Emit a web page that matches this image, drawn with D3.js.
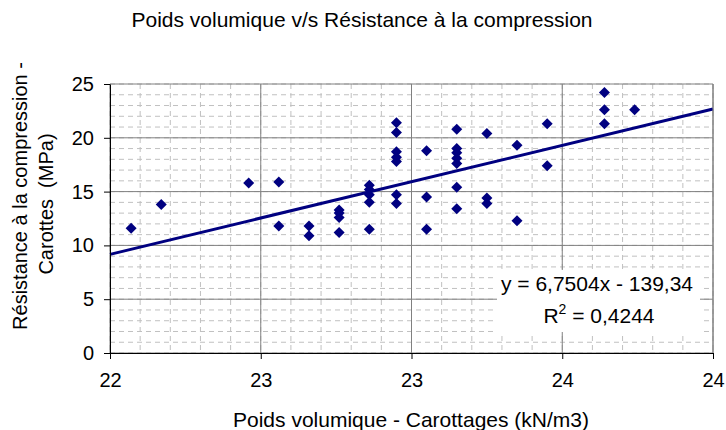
<!DOCTYPE html>
<html>
<head>
<meta charset="utf-8">
<script src="https://cdn.jsdelivr.net/npm/d3@7"></script>
<style>
  body { margin: 0; background: #fff; }
  svg { display: block; font-family: "Liberation Sans", Arial, sans-serif; }
  .grid-minor line { stroke: #c0c0c0; stroke-dasharray: 5,4; stroke-width: 1; }
  .grid-major line { stroke: #808080; stroke-width: 1; }
  .axis path, .axis line { stroke: #000; }
  .axis text { font-size: 20px; fill: #000; }
</style>
</head>
<body>
<div id="chart"></div>
<script>
// poids volumique (kN/m3) and matching resistance (MPa)
var poids = [
  22.07,
  22.17,
  22.46,
  22.56, 22.56,
  22.66, 22.66,
  22.76, 22.76, 22.76, 22.76,
  22.86, 22.86, 22.86, 22.86, 22.86,
  22.95, 22.95, 22.95, 22.95, 22.95, 22.95, 22.95,
  23.05, 23.05, 23.05,
  23.15, 23.15, 23.15, 23.15, 23.15, 23.15, 23.15,
  23.25, 23.25, 23.25,
  23.35, 23.35,
  23.45, 23.45,
  23.64, 23.64, 23.64,
  23.74
];
var resistance = [
  11.6,
  13.8,
  15.8,
  15.9, 11.8,
  11.8, 10.9,
  13.3, 13.0, 12.6, 11.2,
  15.6, 15.2, 14.7, 14.0, 11.5,
  21.4, 20.5, 18.7, 18.2, 17.8, 14.7, 13.9,
  18.8, 14.5, 11.5,
  20.8, 19.0, 18.6, 18.1, 17.6, 15.4, 13.4,
  20.4, 14.4, 13.9,
  19.3, 12.3,
  21.3, 17.4,
  24.2, 22.6, 21.3,
  22.6
];

// trend line from the equation shown on the chart
var trendSlope = 6.7504;
var trendIntercept = -139.34;
var equationText = "y = 6,7504x - 139,34";
var r2Text = " = 0,4244";

var xTicks = [22, 22.5, 23, 23.5, 24];
var xTickLabels = ["22", "23", "23", "24", "24"];
var yTicks = [0, 5, 10, 15, 20, 25];

var W = 726, H = 430;
var margin = {top: 84, right: 13, bottom: 77, left: 110};
var width = W - margin.left - margin.right,
    height = H - margin.top - margin.bottom;

var svg = d3.select("#chart").append("svg")
  .attr("width", W)
  .attr("height", H);

var x = d3.scaleLinear().domain([22, 24]).range([0, width]);
var y = d3.scaleLinear().domain([0, 25]).range([height, 0]);

var g = svg.append("g")
  .attr("transform", "translate(" + margin.left + "," + margin.top + ")");

// minor grid
var minorX = d3.range(22, 24.001, 0.1);
var minorY = d3.range(0, 25.001, 1);
var minor = g.append("g").attr("class", "grid-minor");
minor.selectAll(".vx").data(minorX).enter().append("line")
  .attr("x1", d => x(d)).attr("x2", d => x(d))
  .attr("y1", 0).attr("y2", height);
minor.selectAll(".hy").data(minorY).enter().append("line")
  .attr("x1", 0).attr("x2", width)
  .attr("y1", d => y(d)).attr("y2", d => y(d));

// major grid
var major = g.append("g").attr("class", "grid-major");
major.selectAll(".vx").data(xTicks).enter().append("line")
  .attr("x1", d => x(d)).attr("x2", d => x(d))
  .attr("y1", 0).attr("y2", height);
major.selectAll(".hy").data(yTicks).enter().append("line")
  .attr("x1", 0).attr("x2", width)
  .attr("y1", d => y(d)).attr("y2", d => y(d));

// points
var pts = poids.map(function(p, i){ return {x: p, y: resistance[i]}; });
var s = 5.5;
g.selectAll(".pt").data(pts).enter().append("path")
  .attr("class", "pt")
  .attr("d", function(d){
    var cx = x(d.x), cy = y(d.y);
    return "M" + cx + "," + (cy - s) + "L" + (cx + s) + "," + cy +
           "L" + cx + "," + (cy + s) + "L" + (cx - s) + "," + cy + "Z";
  })
  .attr("fill", "#000080");

// trend line
var xd = x.domain();
g.append("line")
  .attr("x1", x(xd[0])).attr("y1", y(trendSlope * xd[0] + trendIntercept))
  .attr("x2", x(xd[1])).attr("y2", y(trendSlope * xd[1] + trendIntercept))
  .attr("stroke", "#000080")
  .attr("stroke-width", 3);

// equation box
var box = g.append("g");
box.append("rect")
  .attr("x", 497 - margin.left).attr("y", 270 - margin.top)
  .attr("width", 203).attr("height", 62)
  .attr("fill", "#fff");
box.append("text")
  .attr("x", 597 - margin.left).attr("y", 291 - margin.top)
  .attr("text-anchor", "middle")
  .style("font-size", "21px")
  .text(equationText);
var r2 = box.append("text")
  .attr("x", 599 - margin.left).attr("y", 323 - margin.top)
  .attr("text-anchor", "middle")
  .style("font-size", "21px");
r2.append("tspan").text("R");
r2.append("tspan").attr("dy", -9).style("font-size", "14px").text("2");
r2.append("tspan").attr("dy", 9).text(r2Text);

// right border
g.append("line").attr("x1", width).attr("x2", width).attr("y1", 0).attr("y2", height)
  .attr("stroke", "#808080");

// axes
g.append("g")
  .attr("class", "axis")
  .attr("transform", "translate(0," + height + ")")
  .call(d3.axisBottom(x).tickValues(xTicks)
    .tickFormat(function(d, i){ return xTickLabels[i]; })
    .tickSize(6).tickSizeOuter(0).tickPadding(14));

g.append("g")
  .attr("class", "axis")
  .call(d3.axisLeft(y).tickValues(yTicks).tickSize(6).tickSizeOuter(0).tickPadding(10));

// titles
svg.append("text")
  .attr("x", 362).attr("y", 27)
  .attr("text-anchor", "middle")
  .style("font-size", "21px")
  .text("Poids volumique v/s Résistance à la compression");

svg.append("text")
  .attr("x", 411).attr("y", 427)
  .attr("text-anchor", "middle")
  .style("font-size", "21px")
  .text("Poids volumique - Carottages (kN/m3)");

svg.append("text")
  .attr("transform", "translate(27,196) rotate(-90)")
  .attr("text-anchor", "middle")
  .style("font-size", "20px")
  .text("Résistance à la compression -");
svg.append("text")
  .attr("transform", "translate(53,204) rotate(-90)")
  .attr("text-anchor", "middle")
  .style("font-size", "20px")
  .style("white-space", "pre")
  .text("Carottes  (MPa)");
</script>
</body>
</html>
